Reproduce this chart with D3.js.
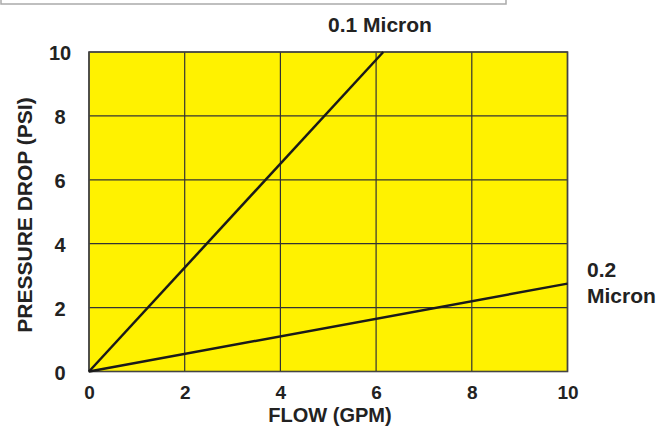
<!DOCTYPE html>
<html>
<head>
<meta charset="utf-8">
<script src="https://cdn.jsdelivr.net/npm/d3@7"></script>
<style>
  body { margin: 0; background: #fff; }
  text { font-family: "Liberation Sans", Arial, sans-serif; font-weight: bold; fill: #222; }
</style>
</head>
<body>
<svg id="chart" width="656" height="432"></svg>
<script>
const xTicks = [0, 2, 4, 6, 8, 10];
const yTicks = [0, 2, 4, 6, 8, 10];
const micron01 = [{ x: 0, y: 0 }, { x: 6.15, y: 10 }];
const micron02 = [{ x: 0, y: 0 }, { x: 10, y: 2.75 }];

const svg = d3.select("#chart");
const margin = { top: 52, right: 88.5, bottom: 60.5, left: 89 };
const width = 656, height = 432;

// gray frame at the very top
svg.append("rect")
  .attr("x", 1).attr("y", -20)
  .attr("width", 505).attr("height", 24)
  .attr("fill", "none")
  .attr("stroke", "#aaa")
  .attr("stroke-width", 1.5);

const x = d3.scaleLinear().domain([0, 10]).range([margin.left, width - margin.right]);
const y = d3.scaleLinear().domain([0, 10]).range([height - margin.bottom, margin.top]);

svg.append("rect")
  .attr("x", x(0)).attr("y", y(10))
  .attr("width", x(10) - x(0)).attr("height", y(0) - y(10))
  .attr("fill", "#fff200");

// grid
svg.append("g")
  .selectAll("line")
  .data(xTicks)
  .join("line")
  .attr("x1", d => x(d)).attr("x2", d => x(d))
  .attr("y1", y(0)).attr("y2", y(10))
  .attr("stroke", "#333").attr("stroke-width", 1.2);

svg.append("g")
  .selectAll("line")
  .data(yTicks)
  .join("line")
  .attr("x1", x(0)).attr("x2", x(10))
  .attr("y1", d => y(d)).attr("y2", d => y(d))
  .attr("stroke", "#333").attr("stroke-width", 1.2);

svg.append("rect")
  .attr("x", x(0)).attr("y", y(10))
  .attr("width", x(10) - x(0)).attr("height", y(0) - y(10))
  .attr("fill", "none").attr("stroke", "#444").attr("stroke-width", 1.6);

// tick labels via d3 axes, domain & tick lines hidden
const xAxis = svg.append("g")
  .attr("transform", `translate(0,${y(0)})`)
  .call(d3.axisBottom(x).tickValues(xTicks).tickSize(0).tickPadding(14));
xAxis.attr("font-size", 19).attr("font-family", "Liberation Sans, Arial, sans-serif");
xAxis.select(".domain").remove();
xAxis.selectAll("text").style("font-weight", "bold").style("fill", "#222");

const yAxis = svg.append("g")
  .attr("transform", `translate(${x(0)},0)`)
  .call(d3.axisLeft(y).tickValues(yTicks).tickSize(0).tickPadding(29));
yAxis.attr("font-size", 20).attr("font-family", "Liberation Sans, Arial, sans-serif");
yAxis.select(".domain").remove();
yAxis.selectAll("text")
  .attr("text-anchor", "middle").attr("dy", "0.38em")
  .style("font-weight", "bold").style("fill", "#222");

const line = d3.line().x(d => x(d.x)).y(d => y(d.y));
[micron01, micron02].forEach(s => {
  svg.append("path")
    .datum(s)
    .attr("d", line)
    .attr("fill", "none")
    .attr("stroke", "#1a1a1a")
    .attr("stroke-width", 2.5);
});

svg.append("text").attr("x", 380).attr("y", 32)
  .attr("text-anchor", "middle").style("font-size", "21px").text("0.1 Micron");
svg.append("text").attr("x", 587).attr("y", 277).style("font-size", "21px").text("0.2");
svg.append("text").attr("x", 587).attr("y", 303).style("font-size", "21px").text("Micron");

svg.append("text").attr("x", 330).attr("y", 422)
  .attr("text-anchor", "middle").style("font-size", "20px").text("FLOW (GPM)");
svg.append("text")
  .attr("transform", `translate(32,215) rotate(-90)`)
  .attr("text-anchor", "middle").style("font-size", "21px").text("PRESSURE DROP (PSI)");
</script>
</body>
</html>
